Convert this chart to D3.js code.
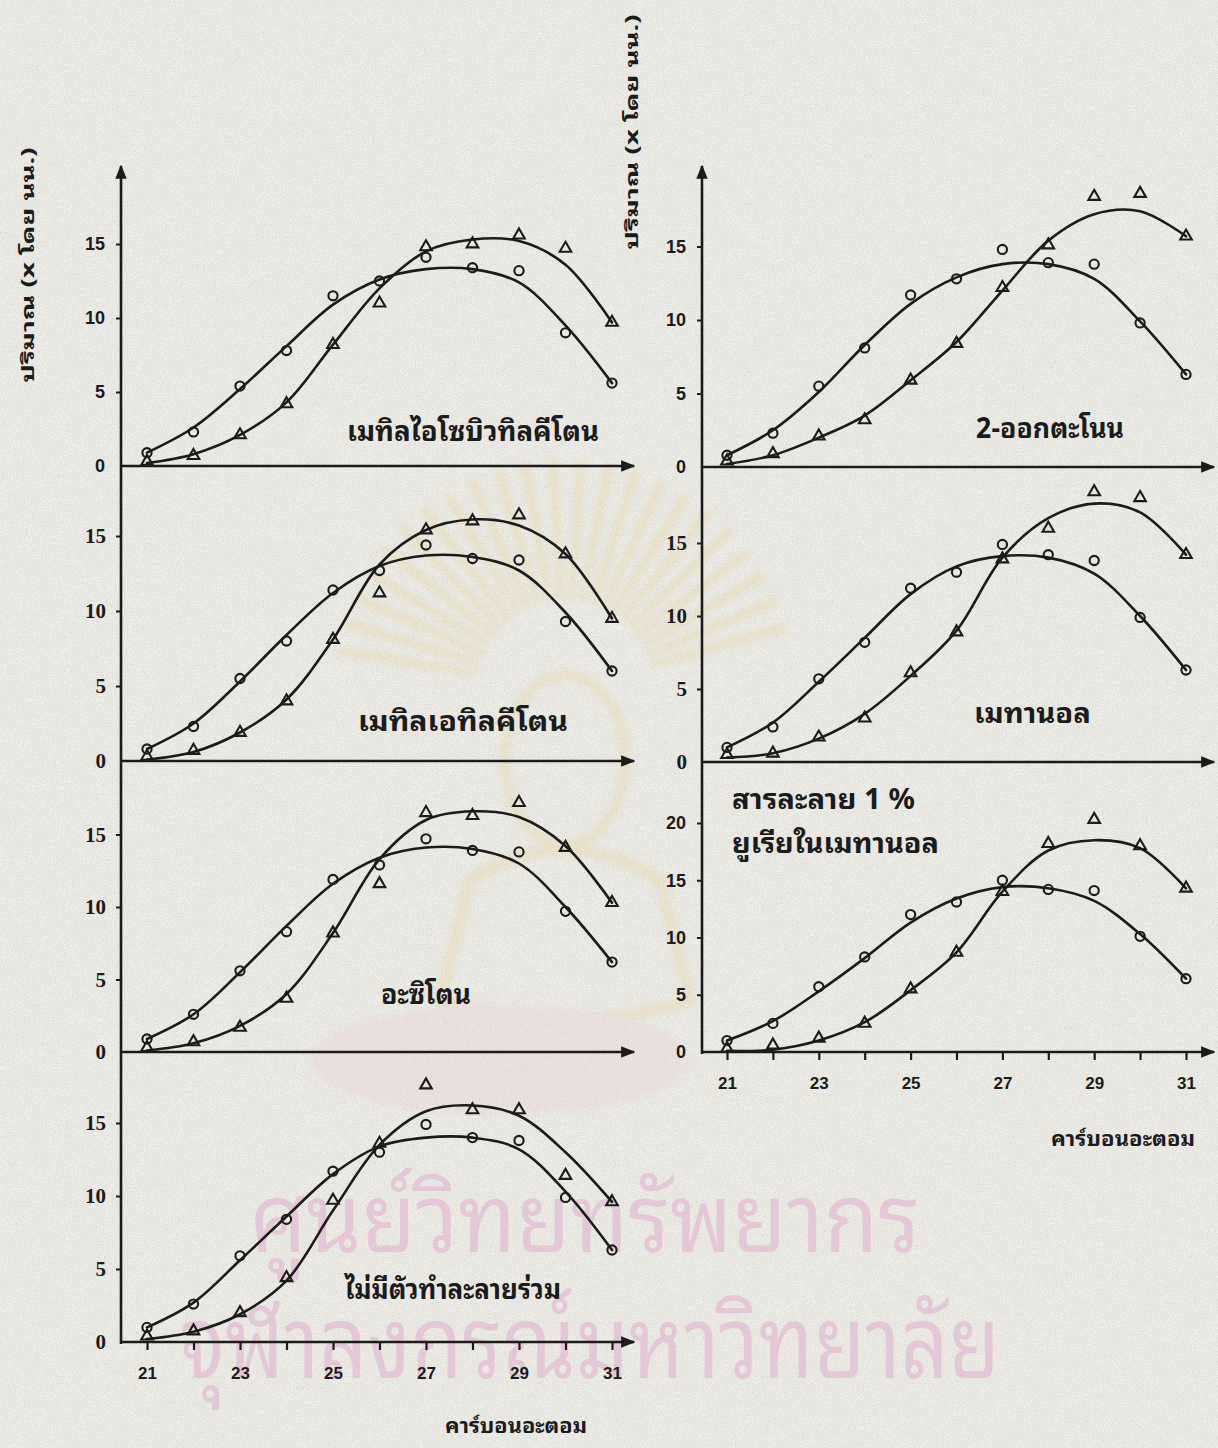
<!DOCTYPE html>
<html>
<head>
<meta charset="utf-8">
<script src="https://cdn.jsdelivr.net/npm/d3@7"></script>
<style>
  html, body { margin: 0; padding: 0; background: #edece7; }
  svg { display: block; }
</style>
</head>
<body>
<svg id="chart" width="1218" height="1448"></svg>
<script>
// ---- data ---------------------------------------------------------------
const carbonNumbers = [21, 22, 23, 24, 25, 26, 27, 28, 29, 30, 31];
const xTickLabels = [21, 23, 25, 27, 29, 31];
const yTicksStandard = [0, 5, 10, 15];
const yTicksUrea = [0, 5, 10, 15, 20];

const cosolventNames = [
  "เมทิลไอโซบิวทิลคีโตน",
  "เมทิลเอทิลคีโตน",
  "อะซิโตน",
  "ไม่มีตัวทำละลายร่วม",
  "2-ออกตะโนน",
  "เมทานอล",
  "สารละลาย 1 %|ยูเรียในเมทานอล"
];
const yAxisTitle = "ปริมาณ (x โดย นน.)";
const xAxisTitle = "คาร์บอนอะตอม";
const watermarkLines = ["ศูนย์วิทยทรัพยากร", "จุฬาลงกรณ์มหาวิทยาลัย"];

// measured points (o) and (Δ), per co-solvent, C21..C31
const circleMIBK  = [0.9, 2.3, 5.4, 7.8, 11.5, 12.5, 14.1, 13.4, 13.2, 9.0, 5.6];
const triangleMIBK = [0.3, 0.7, 2.1, 4.2, 8.2, 11.0, 14.8, 15.0, 15.6, 14.7, 9.7];
const circleMEK   = [0.8, 2.3, 5.5, 8.0, 11.4, 12.7, 14.4, 13.5, 13.4, 9.3, 6.0];
const triangleMEK  = [0.3, 0.7, 1.9, 4.0, 8.1, 11.2, 15.4, 16.0, 16.4, 13.8, 9.5];
const circleAcetone  = [0.9, 2.6, 5.6, 8.3, 11.9, 12.9, 14.7, 13.9, 13.8, 9.7, 6.2];
const triangleAcetone = [0.3, 0.7, 1.7, 3.7, 8.2, 11.6, 16.5, 16.3, 17.2, 14.1, 10.3];
const circleNone  = [1.0, 2.6, 5.9, 8.4, 11.7, 13.0, 14.9, 14.0, 13.8, 9.9, 6.3];
const triangleNone = [0.4, 0.75, 2.0, 4.4, 9.7, 13.6, 17.6, 15.9, 15.9, 11.4, 9.6];
const circleOctanone  = [0.8, 2.3, 5.5, 8.1, 11.7, 12.8, 14.8, 13.9, 13.8, 9.8, 6.3];
const triangleOctanone = [0.4, 0.9, 2.1, 3.2, 5.9, 8.4, 12.2, 15.1, 18.4, 18.6, 15.7];
const circleMethanol  = [1.0, 2.4, 5.7, 8.2, 11.9, 13.0, 14.9, 14.2, 13.8, 9.9, 6.3];
const triangleMethanol = [0.5, 0.6, 1.7, 3.0, 6.1, 8.9, 13.9, 16.0, 18.5, 18.1, 14.2];
const circleUrea  = [1.0, 2.5, 5.7, 8.3, 12.0, 13.1, 15.0, 14.2, 14.1, 10.1, 6.4];
const triangleUrea = [0.3, 0.6, 1.2, 2.5, 5.5, 8.7, 14.0, 18.2, 20.3, 18.0, 14.3];

// hand-fitted smooth trend curves, read at C21..C31
const circleFitMIBK  = [0.9, 2.6, 5.2, 8.1, 10.9, 12.6, 13.3, 13.3, 12.4, 9.5, 5.6];
const triangleFitMIBK = [0.2, 0.8, 2.1, 4.3, 8.2, 12.0, 14.5, 15.3, 15.2, 13.6, 9.7];
const circleFitMEK   = [0.8, 2.5, 5.3, 8.4, 11.2, 13.0, 13.7, 13.6, 12.7, 9.9, 6.0];
const triangleFitMEK  = [0.1, 0.6, 1.9, 4.1, 8.1, 13.1, 15.4, 16.1, 15.7, 13.8, 9.5];
const circleFitAcetone  = [0.9, 2.6, 5.5, 8.7, 11.6, 13.4, 14.1, 14.0, 13.0, 10.0, 6.2];
const triangleFitAcetone = [0.1, 0.6, 1.8, 4.0, 8.2, 13.3, 16.0, 16.6, 16.2, 14.2, 10.3];
const circleFitNone  = [1.0, 2.7, 5.6, 8.6, 11.5, 13.4, 14.0, 14.0, 13.2, 10.3, 6.3];
const triangleFitNone = [0.2, 0.7, 1.9, 4.2, 9.0, 13.5, 15.8, 16.2, 15.5, 13.0, 9.6];
const circleFitOctanone  = [0.8, 2.5, 5.1, 8.3, 11.1, 12.9, 13.8, 13.8, 12.8, 9.9, 6.3];
const triangleFitOctanone = [0.2, 0.8, 2.0, 3.5, 5.9, 8.5, 12.0, 15.4, 17.2, 17.4, 15.7];
const circleFitMethanol  = [1.0, 2.7, 5.5, 8.5, 11.5, 13.4, 14.1, 14.0, 12.9, 10.0, 6.3];
const triangleFitMethanol = [0.3, 0.6, 1.6, 3.3, 5.9, 9.0, 14.0, 16.7, 17.7, 17.1, 14.2];
const circleFitUrea  = [1.0, 2.7, 5.3, 8.2, 11.3, 13.4, 14.4, 14.3, 13.2, 10.3, 6.4];
const triangleFitUrea = [0.1, 0.2, 1.0, 2.6, 5.4, 8.7, 14.0, 17.6, 18.5, 17.8, 14.3];

// ---- layout -------------------------------------------------------------
const INK = "#1b1b1b";
const THAI = "'Noto Sans Thai Looped','Loma','Garuda','Norasi','Tlwg Typo','Noto Serif Thai','Noto Sans Thai',sans-serif";
const SANS = "'Liberation Sans','DejaVu Sans',Arial,sans-serif";
const SERIF = "'Liberation Serif','DejaVu Serif',serif";

const columns = [
  { axisX: 121, x0: 147, x1: 612, arrowEnd: 634, top: 166, bottom: 1342 },
  { axisX: 702, x0: 727, x1: 1186, arrowEnd: 1214, top: 166, bottom: 1052 }
];

const panels = [
  { col: 0, zeroY: 466, unit: 14.8, ticks: yTicksStandard, tickFont: SANS, name: cosolventNames[0],
    circ: circleMIBK, tri: triangleMIBK, circFit: circleFitMIBK, triFit: triangleFitMIBK,
    labelX: 347, labelY: 441, labelW: 252 },
  { col: 0, zeroY: 761, unit: 15.0, ticks: yTicksStandard, tickFont: SERIF, name: cosolventNames[1],
    circ: circleMEK, tri: triangleMEK, circFit: circleFitMEK, triFit: triangleFitMEK,
    labelX: 358, labelY: 731, labelW: 210 },
  { col: 0, zeroY: 1052, unit: 14.5, ticks: yTicksStandard, tickFont: SERIF, name: cosolventNames[2],
    circ: circleAcetone, tri: triangleAcetone, circFit: circleFitAcetone, triFit: triangleFitAcetone,
    labelX: 381, labelY: 1004, labelW: 90 },
  { col: 0, zeroY: 1342, unit: 14.6, ticks: yTicksStandard, tickFont: SERIF, name: cosolventNames[3],
    circ: circleNone, tri: triangleNone, circFit: circleFitNone, triFit: triangleFitNone,
    labelX: 345, labelY: 1299, labelW: 216, xAxis: true },
  { col: 1, zeroY: 467, unit: 14.7, ticks: yTicksStandard, tickFont: SANS, name: cosolventNames[4],
    circ: circleOctanone, tri: triangleOctanone, circFit: circleFitOctanone, triFit: triangleFitOctanone,
    labelX: 976, labelY: 438, labelW: 148 },
  { col: 1, zeroY: 762, unit: 14.6, ticks: yTicksStandard, tickFont: SERIF, name: cosolventNames[5],
    circ: circleMethanol, tri: triangleMethanol, circFit: circleFitMethanol, triFit: triangleFitMethanol,
    labelX: 974, labelY: 723, labelW: 117 },
  { col: 1, zeroY: 1052, unit: 11.45, ticks: yTicksUrea, tickFont: SANS, name: cosolventNames[6],
    circ: circleUrea, tri: triangleUrea, circFit: circleFitUrea, triFit: triangleFitUrea,
    labelX: 732, labelY: 809, labelW: 183, labelW2: 207, xAxis: true }
];

const svg = d3.select("#chart");
const defs = svg.append("defs");

// paper grain
const grain = defs.append("filter").attr("id", "grain")
  .attr("x", 0).attr("y", 0).attr("width", "100%").attr("height", "100%");
grain.append("feTurbulence").attr("type", "fractalNoise")
  .attr("baseFrequency", 0.9).attr("numOctaves", 2).attr("seed", 7).attr("result", "n");
grain.append("feColorMatrix").attr("type", "matrix")
  .attr("values", "0 0 0 0 0.35  0 0 0 0 0.35  0 0 0 0 0.33  0 0 0 -1.6 0.95");

const soft = defs.append("filter").attr("id", "soft");
soft.append("feGaussianBlur").attr("stdDeviation", 3);

defs.append("marker").attr("id", "arrow")
  .attr("viewBox", "0 0 10 10").attr("refX", 9).attr("refY", 5)
  .attr("markerWidth", 5.5).attr("markerHeight", 5.5).attr("orient", "auto")
  .append("path").attr("d", "M0,1 L10,5 L0,9 Z").attr("fill", INK);

svg.append("rect").attr("width", 1218).attr("height", 1448).attr("fill", "#edece7");
svg.append("rect").attr("width", 1218).attr("height", 1448).attr("filter", "url(#grain)").attr("opacity", 0.35);

// ---- faint library emblem and stamp -------------------------------------
const emblem = svg.append("g").attr("opacity", 0.28).attr("filter", "url(#soft)");
const rays = d3.range(-80, 81, 7);
emblem.selectAll("path.ray").data(rays).join("path")
  .attr("d", a => {
    const r = a * Math.PI / 180, cx = 565, cy = 690;
    const w = 0.035;
    const p = (ang, rad) => [cx + Math.sin(ang) * rad, cy - Math.cos(ang) * rad];
    const A = p(r - w, 90), B = p(r - w * 0.6, 230), C = p(r + w * 0.6, 230), D = p(r + w, 90);
    return `M${A}L${B}L${C}L${D}Z`;
  })
  .attr("fill", "#e8cf80");
emblem.append("ellipse").attr("cx", 565).attr("cy", 760).attr("rx", 60).attr("ry", 85)
  .attr("fill", "none").attr("stroke", "#e6cf8a").attr("stroke-width", 10);
emblem.append("path")
  .attr("d", "M470,880 Q565,820 660,880 L690,1000 Q565,1040 440,1000 Z")
  .attr("fill", "none").attr("stroke", "#e6cf8a").attr("stroke-width", 12);
emblem.append("ellipse").attr("cx", 500).attr("cy", 1060).attr("rx", 190).attr("ry", 55).attr("fill", "#eccbd8");

svg.append("g").selectAll("text").data(watermarkLines).join("text")
  .attr("x", (d, i) => i === 0 ? 585 : 590)
  .attr("y", (d, i) => i === 0 ? 1252 : 1378)
  .attr("text-anchor", "middle")
  .attr("font-family", THAI)
  .attr("font-size", (d, i) => i === 0 ? 96 : 100)
  .attr("textLength", (d, i) => i === 0 ? 670 : 820)
  .attr("lengthAdjust", "spacingAndGlyphs")
  .attr("fill", "#e3bbd2")
  .attr("opacity", 0.7)
  .text(d => d);

// ---- axes frames --------------------------------------------------------
columns.forEach(c => {
  svg.append("line")
    .attr("x1", c.axisX).attr("x2", c.axisX)
    .attr("y1", c.bottom + 2).attr("y2", c.top)
    .attr("stroke", INK).attr("stroke-width", 2.6)
    .attr("marker-end", "url(#arrow)");
});

const lineGen = (x, y) => d3.line()
  .x((d, i) => x(carbonNumbers[i]))
  .y(d => y(d))
  .curve(d3.curveCatmullRom.alpha(0.5));

panels.forEach(p => {
  const c = columns[p.col];
  const x = d3.scaleLinear().domain([21, 31]).range([c.x0, c.x1]);
  const y = d3.scaleLinear().domain([0, 1]).range([p.zeroY, p.zeroY - p.unit]);
  const g = svg.append("g");

  // x axis baseline with arrow
  g.append("line")
    .attr("x1", c.axisX).attr("x2", c.arrowEnd)
    .attr("y1", p.zeroY).attr("y2", p.zeroY)
    .attr("stroke", INK).attr("stroke-width", 2.6)
    .attr("marker-end", "url(#arrow)");

  // y ticks
  const yAxis = g.append("g")
    .attr("transform", `translate(${c.axisX},0)`)
    .call(d3.axisLeft(y).tickValues(p.ticks).tickSize(5).tickPadding(8).tickFormat(d3.format("d")));
  yAxis.select(".domain").remove();
  yAxis.selectAll(".tick line").attr("stroke", INK).attr("stroke-width", 2)
    .filter(d => d === 0).remove();
  yAxis.selectAll(".tick text")
    .attr("fill", INK).attr("font-family", p.tickFont)
    .attr("font-weight", "bold").attr("font-size", p.tickFont === SERIF ? 21 : 18)
    .attr("dx", p.tickFont === SERIF ? -2 : -3);

  if (p.xAxis) {
    const xAxis = g.append("g")
      .attr("transform", `translate(0,${p.zeroY})`)
      .call(d3.axisBottom(x).tickValues(carbonNumbers).tickSize(8).tickPadding(17)
        .tickFormat(d => xTickLabels.includes(d) ? d : ""));
    xAxis.select(".domain").remove();
    xAxis.selectAll(".tick line").attr("stroke", INK).attr("stroke-width", 2.2);
    xAxis.selectAll(".tick text")
      .attr("fill", INK).attr("font-family", SANS).attr("font-weight", "bold").attr("font-size", 17);
  }

  // fitted curves
  const lg = lineGen(x, y);
  [p.circFit, p.triFit].forEach(s => {
    g.append("path").attr("d", lg(s))
      .attr("fill", "none").attr("stroke", INK).attr("stroke-width", 2.6)
      .attr("stroke-linecap", "round");
  });

  // measured points
  g.append("g").selectAll("circle").data(p.circ).join("circle")
    .attr("cx", (d, i) => x(carbonNumbers[i]))
    .attr("cy", d => y(d))
    .attr("r", 4.6)
    .attr("fill", "none").attr("stroke", INK).attr("stroke-width", 2.1);

  const tri = d3.symbol(d3.symbolTriangle, 58);
  g.append("g").selectAll("path").data(p.tri).join("path")
    .attr("transform", (d, i) => `translate(${x(carbonNumbers[i])},${y(d)})`)
    .attr("d", tri)
    .attr("fill", "none").attr("stroke", INK).attr("stroke-width", 2.1)
    .attr("stroke-linejoin", "miter");

  // co-solvent label
  const parts = p.name.split("|");
  parts.forEach((t, k) => {
    g.append("text")
      .attr("x", p.labelX).attr("y", p.labelY + k * 44)
      .attr("font-family", THAI).attr("font-weight", "bold").attr("font-size", 28)
      .attr("textLength", k === 0 ? p.labelW : p.labelW2)
      .attr("lengthAdjust", "spacingAndGlyphs")
      .attr("fill", INK).text(t);
  });
});

// y axis titles (rotated)
[{ x: 26, y: 265 }, { x: 630, y: 132 }].forEach(t => {
  svg.append("text")
    .attr("transform", `translate(${t.x},${t.y}) rotate(-90)`)
    .attr("text-anchor", "middle").attr("dominant-baseline", "central")
    .attr("font-family", THAI).attr("font-weight", "bold").attr("font-size", 18)
    .attr("textLength", 235).attr("lengthAdjust", "spacingAndGlyphs")
    .attr("fill", INK).text(yAxisTitle);
});

// x axis titles
[{ x: 445, y: 1433, w: 142 }, { x: 1051, y: 1146, w: 144 }].forEach(t => {
  svg.append("text")
    .attr("x", t.x).attr("y", t.y)
    .attr("font-family", THAI).attr("font-weight", "bold").attr("font-size", 21)
    .attr("textLength", t.w).attr("lengthAdjust", "spacingAndGlyphs")
    .attr("fill", INK).text(xAxisTitle);
});
</script>
</body>
</html>
